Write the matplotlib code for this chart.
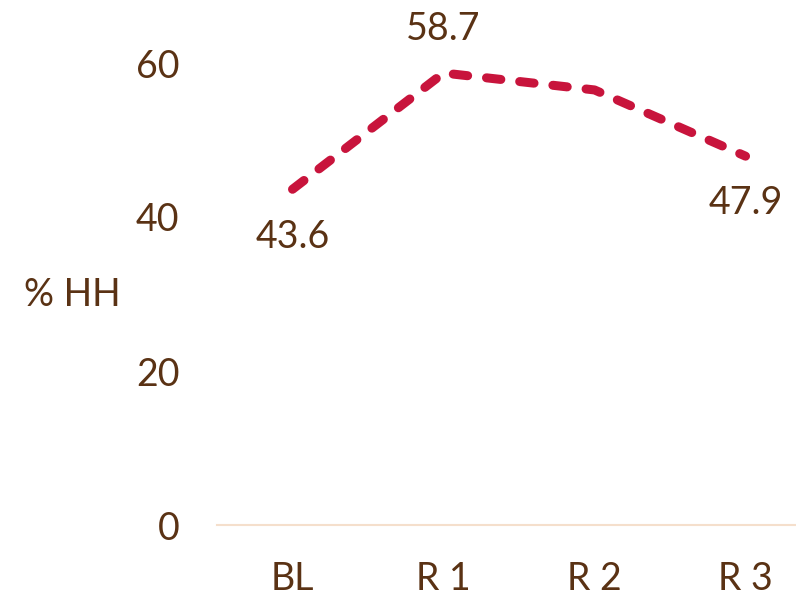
import matplotlib.pyplot as plt

# data
rounds = ["BL", "R 1", "R 2", "R 3"]
pct_hh = [43.6, 58.7, 56.5, 47.9]
shown = {0: ("43.6", "below"), 1: ("58.7", "above"), 3: ("47.9", "below")}

brown = "#5a3214"
red = "#c8143c"

plt.rcParams["font.family"] = ["Lato", "DejaVu Sans"]

fig = plt.figure(figsize=(7.96, 5.96), dpi=100)
ax = fig.add_axes([217 / 796, 71 / 596, 579 / 796, 500 / 596])

x = list(range(len(rounds)))
ax.plot(x, pct_hh, color=red, lw=6.5, dashes=(1.6, 2.1),
        dash_capstyle="round", solid_capstyle="round")

# value labels
for i, (txt, pos) in shown.items():
    off = 32 if pos == "above" else -34
    ax.annotate(txt, (x[i], pct_hh[i]), xytext=(0, off), textcoords="offset points",
                ha="center", va="center", fontsize=27, color=brown)

ax.set_xlim(-0.5, 3.334)
ax.set_ylim(0, 500 / 7.7)
ax.set_yticks([0, 20, 40, 60])
ax.set_xticks(x)
ax.set_xticklabels(rounds)
ax.tick_params(length=0, labelsize=27, labelcolor=brown)
ax.tick_params(axis="y", pad=27)
ax.tick_params(axis="x", pad=26)

for s in ["top", "right", "left"]:
    ax.spines[s].set_visible(False)
ax.spines["bottom"].set_color("#f5dfcc")
ax.spines["bottom"].set_linewidth(1.5)

fig.text(72 / 796, 1 - 295 / 596, "% HH", fontsize=27, color=brown,
         ha="center", va="center")

fig.savefig("out.png", dpi=100)
